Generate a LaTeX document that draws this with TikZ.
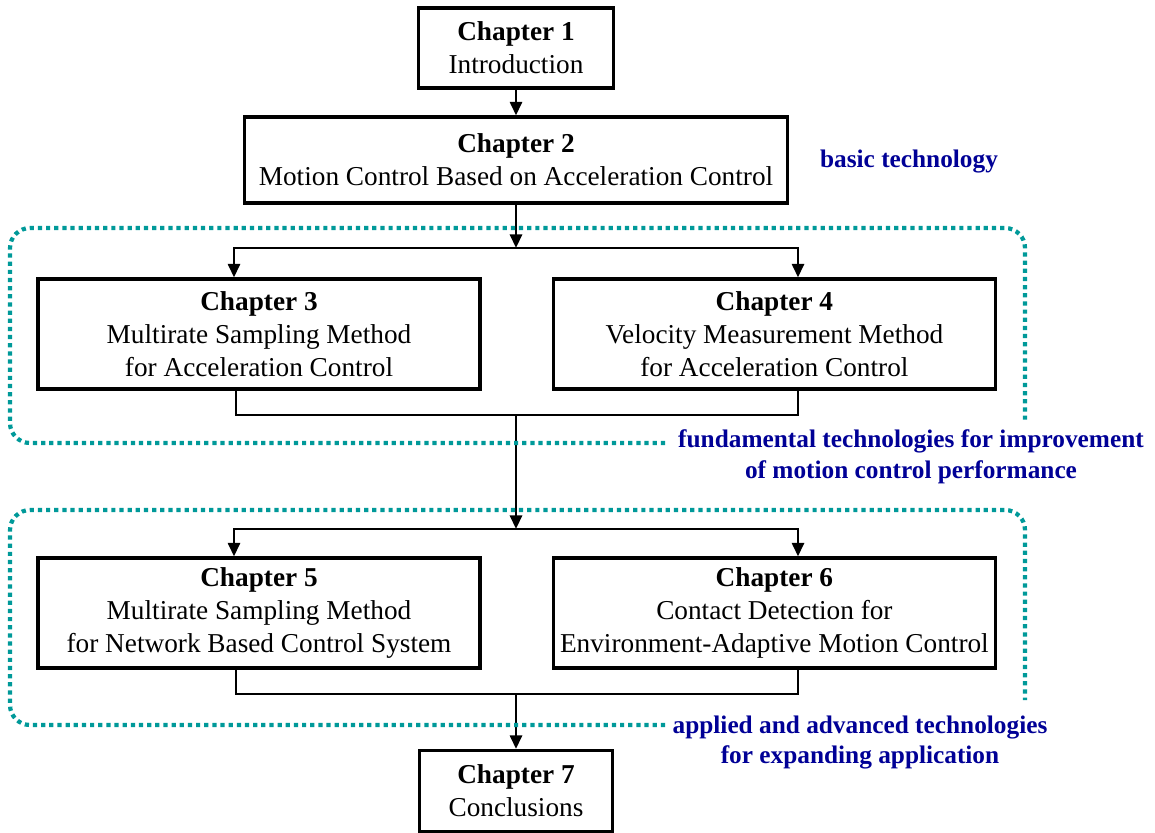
\documentclass[tikz,border=0pt]{standalone}
\usepackage{fontspec}
\setmainfont{Liberation Serif}
\usetikzlibrary{arrows.meta,positioning,calc}
\definecolor{teal}{RGB}{0,153,153}
\definecolor{navy}{RGB}{0,0,150}
\tikzset{
  >={Triangle[length=3.4mm,width=3mm]},
  chap/.style={draw,line width=2.2pt,minimum width=#1,align=center,
    font=\fontsize{19.4}{23.4}\selectfont,inner sep=2pt},
  chap/.default=11.05cm,
  link/.style={line width=2pt},
  zone/.style={teal,line width=3pt,dash pattern=on 3pt off 2.8pt,rounded corners=0.5cm},
  tag/.style={text=navy,align=center,font=\fontsize{18}{21.5}\selectfont\bfseries},
}

\begin{document}
\begin{tikzpicture}
  \useasboundingbox (0,0) rectangle (28.875,-20.825);
  % chapters
  \node[chap=4.875cm,minimum height=2cm] (ch1) at (12.9,-1.2) {\textbf{Chapter 1}\\Introduction};
  \node[chap=13.575cm,minimum height=2.15cm] (ch2) at (12.9,-4.0) {\textbf{Chapter 2}\\Motion Control Based on Acceleration Control};
  \node[chap,minimum height=2.75cm] (ch3) at (6.475,-8.35) {\textbf{Chapter 3}\\Multirate Sampling Method\\for Acceleration Control};
  \node[chap,minimum height=2.75cm] (ch4) at (19.36,-8.35) {\textbf{Chapter 4}\\Velocity Measurement Method\\for Acceleration Control};
  \node[chap,minimum height=2.75cm] (ch5) at (6.475,-15.325) {\textbf{Chapter 5}\\Multirate Sampling Method\\for Network Based Control System};
  \node[chap,minimum height=2.75cm] (ch6) at (19.36,-15.325) {\textbf{Chapter 6}\\Contact Detection for\\Environment-Adaptive Motion Control};
  \node[chap=4.825cm,minimum height=2.025cm] (ch7) at (12.9,-19.775) {\textbf{Chapter 7}\\Conclusions};

  % branch points
  \coordinate (s1) at (12.9,-6.2);
  \coordinate (s1l) at (5.85,-6.2);
  \coordinate (s1r) at (19.95,-6.2);
  \coordinate (b1) at (12.9,-10.375);
  \coordinate (b1l) at (5.9,-10.375);
  \coordinate (b1r) at (19.95,-10.375);
  \coordinate (s2) at (12.9,-13.225);
  \coordinate (s2l) at (5.85,-13.225);
  \coordinate (s2r) at (19.95,-13.225);
  \coordinate (b2) at (12.9,-17.35);
  \coordinate (b2l) at (5.9,-17.35);
  \coordinate (b2r) at (19.95,-17.35);

  % flow
  \draw[link,->] (ch1) -- (ch2);
  \draw[link,->] (ch2) -- (s1);
  \draw[link,->] (s1) -- (s1l) -- (s1l |- ch3.north);
  \draw[link,->] (s1) -- (s1r) -- (s1r |- ch4.north);
  \draw[link] (b1l |- ch3.south) -- (b1l) -- (b1r) -- (b1r |- ch4.south);
  \draw[link,->] (b1) -- (s2);
  \draw[link,->] (s2) -- (s2l) -- (s2l |- ch5.north);
  \draw[link,->] (s2) -- (s2r) -- (s2r |- ch6.north);
  \draw[link] (b2l |- ch5.south) -- (b2l) -- (b2r) -- (b2r |- ch6.south);
  \draw[link,->] (b2) -- (ch7);

  % zones
  \draw[zone] (16.625,-11.075) -- (0.25,-11.075) -- (0.25,-5.7) -- (25.625,-5.7) -- (25.625,-10.5);
  \draw[zone] (16.625,-18.125) -- (0.25,-18.125) -- (0.25,-12.75) -- (25.625,-12.75) -- (25.625,-17.5);

  % labels
  \node[tag] (basic) at (22.725,-4.05) {basic technology};
  \node[tag] (fund) at (22.775,-11.42) {fundamental technologies for improvement\\of motion control performance};
  \node[tag] (appl) at (21.5,-18.57) {applied and advanced technologies\\for expanding application};
\end{tikzpicture}
\end{document}
